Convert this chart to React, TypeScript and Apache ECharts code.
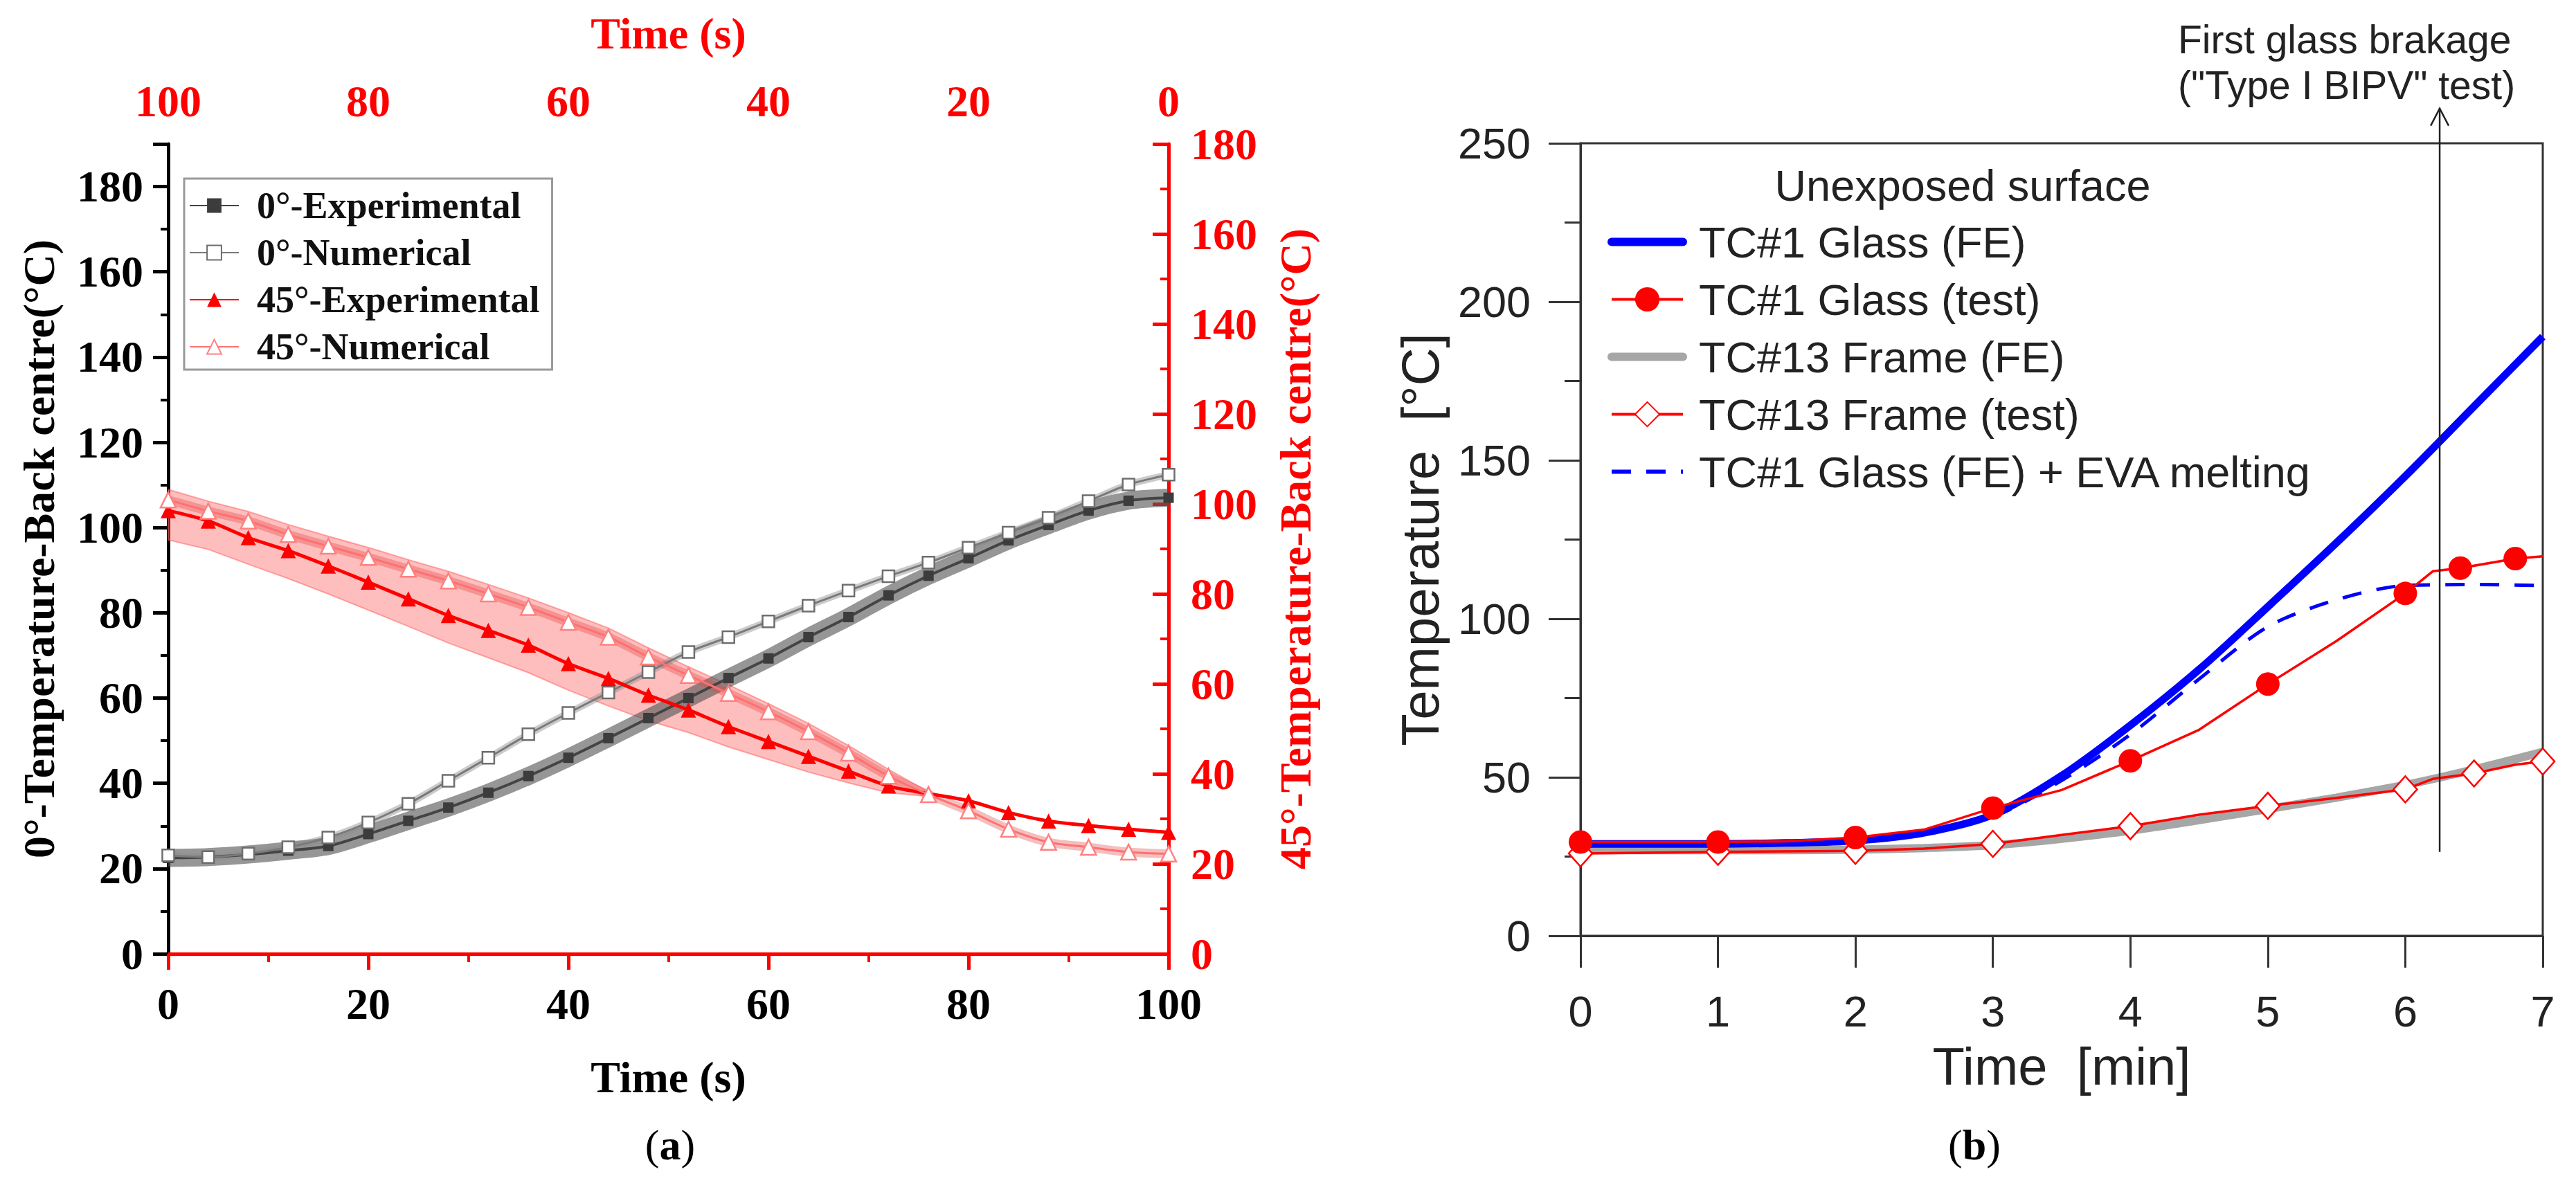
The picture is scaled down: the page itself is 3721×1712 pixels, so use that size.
import React, { useEffect, useRef } from 'react';
import * as echarts from 'echarts';

// ---- (a) 0° specimen: bottom time axis (s), left temperature axis (°C)
const time0 = [0, 4, 8, 12, 16, 20, 24, 28, 32, 36, 40, 44, 48, 52, 56, 60, 64, 68, 72, 76, 80, 84, 88, 92, 96, 100];
const exp0 = [22.5, 22.7, 23.3, 24.2, 25.3, 28.1, 31.2, 34.3, 37.8, 41.7, 46.0, 50.6, 55.3, 60.0, 64.7, 69.3, 74.3, 79.0, 84.1, 88.7, 92.8, 97.0, 100.6, 104.0, 106.3, 107.0];
const num0 = [23.1, 22.7, 23.5, 25.0, 27.3, 30.8, 35.2, 40.6, 46.0, 51.5, 56.5, 61.3, 66.1, 70.8, 74.3, 78.0, 81.7, 85.2, 88.6, 91.8, 95.3, 98.8, 102.3, 106.2, 110.1, 112.4];

// ---- (a) 45° specimen: top time axis (reversed), right temperature axis
const time45 = [0, 4, 8, 12, 16, 20, 24, 28, 32, 36, 40, 44, 48, 52, 56, 60, 64, 68, 72, 76, 80, 84, 88, 92, 96, 100];
const exp45 = [27.0, 27.7, 28.5, 29.5, 31.4, 34.0, 35.6, 37.3, 40.6, 43.9, 47.2, 50.5, 54.2, 57.5, 61.2, 64.5, 68.6, 71.9, 75.2, 78.9, 82.6, 86.2, 89.6, 92.5, 96.2, 98.5];
const num45 = [22.2, 22.6, 23.7, 24.8, 27.7, 31.8, 35.4, 39.5, 44.6, 49.4, 53.8, 57.9, 61.9, 66.0, 70.4, 73.7, 77.0, 80.0, 82.9, 85.5, 88.1, 90.6, 93.2, 96.2, 98.4, 100.9];
const bandTime45 = [24, 28, 32, 36, 40, 44, 48, 52, 56, 60, 64, 68, 72, 76, 80, 84, 88, 92, 96, 100];
const bandLow45 = [35.0, 35.8, 38.0, 40.4, 43.2, 46.0, 49.2, 51.8, 55.1, 58.6, 62.5, 65.8, 69.1, 72.8, 76.4, 80.0, 83.4, 86.6, 89.9, 92.0];
const bandHigh45 = [36.0, 41.0, 46.3, 51.2, 55.6, 59.8, 63.8, 68.0, 72.4, 75.8, 79.1, 82.1, 85.0, 87.6, 90.3, 92.8, 95.4, 98.3, 100.6, 103.2];

// ---- (b) unexposed surface, time in min
const feTime = [0, 0.5, 1, 1.5, 2, 2.5, 3, 3.5, 4, 4.5, 5, 5.5, 6, 6.5, 7];
const glassFE = [29, 29, 29, 29.3, 30, 32.5, 38.2, 50.5, 66.4, 84, 103.8, 124, 145, 167, 189];
const glassEVA = [29, 29, 29, 29.3, 30, 32.3, 37.5, 49, 63.5, 81, 97.5, 106, 110.5, 110.8, 110.5];
const frameFE = [27, 27, 27, 27, 27.2, 27.7, 28.6, 30.6, 33.2, 36.5, 40, 43.6, 47.6, 52.5, 58];

const glassTestTime = [0, 0.5, 1, 1.5, 2, 2.5, 3, 3.5, 4, 4.5, 5, 5.5, 6, 6.2, 6.4, 6.8, 7];
const glassTest = [29.6, 29.6, 29.6, 29.8, 31, 33.5, 40.3, 46, 55.2, 65, 79.4, 93, 108, 115, 116, 119, 119.7];
const glassTestMarks = [0, 1, 2, 3, 4, 5, 6, 6.4, 6.8];

const frameTestTime = [0, 1, 2, 2.5, 3, 3.5, 4, 4.5, 5, 5.5, 6, 6.2, 6.5, 6.8, 7];
const frameTest = [26, 26.5, 26.8, 27.5, 29, 31.8, 34.6, 38.2, 41, 43.5, 46.2, 49.5, 51.2, 54, 55];
const frameTestMarks = [0, 1, 2, 3, 4, 5, 6, 6.5, 7];

const breakTime = 6.25;
const breakRange = [26.5, 261];

const SERIF = "'Liberation Serif', 'Times New Roman', serif";
const SANS = "'Liberation Sans', Arial, sans-serif";
const RED = '#ff0000';
const NONE = 'rgba(0,0,0,0)';

const pair = (xs: number[], ys: number[]) => xs.map((x, i) => [x, ys[i]]);
const marked = (xs: number[], ys: number[], marks: number[]) =>
  xs.map((x, i) => (marks.includes(x) ? [x, ys[i]] : { value: [x, ys[i]], symbol: 'none' }));

const serifBold = (size: number, color = '#000') => ({
  fontFamily: SERIF,
  fontWeight: 'bold' as const,
  fontSize: size,
  color,
});
const sans = (size: number) => ({ fontFamily: SANS, fontSize: size, color: '#222' });

const App: React.FC = () => {
  const chartRef = useRef<HTMLDivElement>(null);

  useEffect(() => {
    document.body.style.margin = '0';
    if (!chartRef.current) return undefined;
    const chart = echarts.init(chartRef.current, undefined, { renderer: 'svg' });

    const options: any = {
      animation: false,
      backgroundColor: '#fff',
      grid: [
        { left: 243, right: 2033, top: 208, bottom: 334 },
        { left: 2283, right: 48, top: 207, bottom: 360, show: true, borderColor: '#333', borderWidth: 3 },
      ],
      xAxis: [
        {
          gridIndex: 0, type: 'value', position: 'bottom', min: 0, max: 100, interval: 20,
          axisLine: { lineStyle: { color: '#000', width: 5 } },
          axisTick: { length: 22, lineStyle: { width: 5, color: '#000' } },
          minorTick: { show: true, splitNumber: 2, length: 11, lineStyle: { width: 4, color: '#000' } },
          splitLine: { show: false },
          axisLabel: { margin: 40, ...serifBold(64) },
          name: 'Time (s)', nameLocation: 'middle', nameGap: 146, nameTextStyle: serifBold(64),
        },
        {
          gridIndex: 0, type: 'value', position: 'top', inverse: true, min: 0, max: 100, interval: 20,
          axisLine: { lineStyle: { color: RED, width: 5 } },
          axisTick: { inside: true, length: 23, lineStyle: { width: 5, color: RED } },
          minorTick: { show: true, splitNumber: 2, length: 12, lineStyle: { width: 4, color: RED } },
          splitLine: { show: false },
          axisLabel: { margin: 30, ...serifBold(64, RED) },
          name: 'Time (s)', nameLocation: 'middle', nameGap: 128, nameTextStyle: serifBold(64, RED),
        },
        {
          gridIndex: 1, type: 'value', min: 0, max: 7, interval: 1,
          axisLine: { lineStyle: { color: '#333', width: 3 } },
          axisTick: { length: 46, lineStyle: { width: 3, color: '#333' } },
          splitLine: { show: false },
          axisLabel: { margin: 77, ...sans(63) },
          name: 'Time  [min]', nameLocation: 'middle', nameGap: 150, nameTextStyle: sans(76),
        },
      ],
      yAxis: [
        {
          gridIndex: 0, type: 'value', position: 'left', min: 0, max: 190, interval: 20,
          axisLine: { lineStyle: { color: '#000', width: 5 } },
          axisTick: { length: 22, lineStyle: { width: 5, color: '#000' } },
          minorTick: { show: true, splitNumber: 2, length: 11, lineStyle: { width: 4, color: '#000' } },
          splitLine: { show: false },
          axisLabel: { margin: 36, showMaxLabel: false, ...serifBold(64) },
          name: '0°-Temperature-Back centre(°C)', nameLocation: 'middle', nameGap: 155, nameRotate: 90,
          nameTextStyle: serifBold(64),
        },
        {
          gridIndex: 0, type: 'value', position: 'right', min: 0, max: 180, interval: 20,
          axisLine: { lineStyle: { color: RED, width: 5 } },
          axisTick: { inside: true, length: 23, lineStyle: { width: 5, color: RED } },
          minorTick: { show: true, splitNumber: 2, length: 12, lineStyle: { width: 4, color: RED } },
          splitLine: { show: false },
          axisLabel: { margin: 32, ...serifBold(64, RED) },
          name: '45°-Temperature-Back centre(°C)', nameLocation: 'middle', nameGap: 151, nameRotate: 90,
          nameTextStyle: serifBold(64, RED),
        },
        {
          gridIndex: 1, type: 'value', min: 0, max: 250, interval: 50,
          axisLine: { lineStyle: { color: '#333', width: 3 } },
          axisTick: { length: 46, lineStyle: { width: 3, color: '#333' } },
          minorTick: { show: true, splitNumber: 2, length: 23, lineStyle: { width: 3, color: '#333' } },
          splitLine: { show: false },
          axisLabel: { margin: 72, ...sans(63) },
          name: 'Temperature  [°C]', nameLocation: 'middle', nameGap: 194, nameRotate: 90,
          nameTextStyle: sans(76),
        },
      ],
      legend: [
        {
          orient: 'vertical', left: 266, top: 258, selectedMode: false,
          itemWidth: 71, itemHeight: 26, itemGap: 14, padding: [12, 18, 6, 7],
          borderColor: '#9a9a9a', borderWidth: 3,
          textStyle: { ...serifBold(54, '#111'), padding: [0, 0, 0, 21] },
          data: ['0°-Experimental', '0°-Numerical', '45°-Experimental', '45°-Numerical'],
        },
        {
          orient: 'vertical', left: 2322, top: 318, selectedMode: false,
          itemWidth: 103, itemHeight: 44, itemGap: 20, padding: 0,
          textStyle: { ...sans(63), padding: [0, 0, 0, 18] },
          data: [
            { name: 'TC#1 Glass (FE)', itemStyle: { color: NONE, borderWidth: 0 }, lineStyle: { width: 12, color: '#0000ff', cap: 'round' } },
            { name: 'TC#1 Glass (test)', lineStyle: { width: 4, color: RED } },
            { name: 'TC#13 Frame (FE)', itemStyle: { color: NONE, borderWidth: 0 }, lineStyle: { width: 12, color: '#a6a6a6', cap: 'round' } },
            { name: 'TC#13 Frame (test)', lineStyle: { width: 4, color: RED } },
            {
              name: 'TC#1 Glass (FE) + EVA melting', itemStyle: { color: NONE, borderWidth: 0 },
              lineStyle: { width: 6, color: '#0000ff', type: [28, 22] },
            },
          ],
        },
      ],
      graphic: [
        {
          type: 'text', x: 968, y: 1654,
          style: {
            text: '{n|(}{b|a}{n|)}', align: 'center', verticalAlign: 'middle',
            rich: {
              n: { fontFamily: SERIF, fontSize: 62, fill: '#000' },
              b: { fontFamily: SERIF, fontSize: 62, fontWeight: 'bold', fill: '#000' },
            },
          },
        },
        {
          type: 'text', x: 2852, y: 1654,
          style: {
            text: '{n|(}{b|b}{n|)}', align: 'center', verticalAlign: 'middle',
            rich: {
              n: { fontFamily: SERIF, fontSize: 62, fill: '#000' },
              b: { fontFamily: SERIF, fontSize: 62, fontWeight: 'bold', fill: '#000' },
            },
          },
        },
        {
          type: 'text', x: 2835, y: 268,
          style: { text: 'Unexposed surface', fontFamily: SANS, fontSize: 63, fill: '#222', align: 'center', verticalAlign: 'middle' },
        },
        {
          type: 'text', x: 3146, y: 24,
          style: {
            text: 'First glass brakage\n("Type I BIPV" test)', fontFamily: SANS, fontSize: 57, lineHeight: 66,
            fill: '#222', align: 'left', verticalAlign: 'top',
          },
        },
      ],
      series: [
        // (a) light band of the 45° test, from the lower bound up to the numerical curve
        {
          name: '45° band', type: 'custom', xAxisIndex: 1, yAxisIndex: 1, z: 1, silent: true,
          data: [[bandTime45[0], bandLow45[0]]],
          renderItem: (_params: any, api: any) => {
            const lower = bandTime45.map((t, i) => api.coord([t, bandLow45[i]]));
            const upper = bandTime45.map((t, i) => api.coord([t, bandHigh45[i]])).reverse();
            return {
              type: 'polygon',
              shape: { points: lower.concat(upper) },
              style: { fill: 'rgba(255,100,100,0.42)', stroke: 'rgba(255,90,90,0.5)', lineWidth: 2 },
            };
          },
        },
        {
          name: '0° exp band', type: 'line', xAxisIndex: 0, yAxisIndex: 0, z: 1, silent: true,
          data: pair(time0, exp0), symbol: 'none', smooth: 0.3,
          lineStyle: { width: 26, color: 'rgba(85,85,85,0.62)' },
        },
        {
          name: '0° num band', type: 'line', xAxisIndex: 0, yAxisIndex: 0, z: 1, silent: true,
          data: pair(time0, num0), symbol: 'none', smooth: 0.3,
          lineStyle: { width: 10, color: 'rgba(140,140,140,0.45)' },
        },
        {
          name: '45° num band', type: 'line', xAxisIndex: 1, yAxisIndex: 1, z: 1, silent: true,
          data: pair(time45, num45), symbol: 'none', smooth: 0.3,
          lineStyle: { width: 13, color: 'rgba(225,70,70,0.35)' },
        },
        // (a) curves
        {
          name: '0°-Experimental', type: 'line', xAxisIndex: 0, yAxisIndex: 0,
          data: pair(time0, exp0), smooth: 0.3, symbol: 'rect', symbolSize: 15, showAllSymbol: true,
          lineStyle: { width: 4, color: '#444' }, itemStyle: { color: '#3c3c3c' },
        },
        {
          name: '0°-Numerical', type: 'line', xAxisIndex: 0, yAxisIndex: 0,
          data: pair(time0, num0), smooth: 0.3, symbol: 'rect', symbolSize: 17, showAllSymbol: true,
          lineStyle: { width: 3, color: '#7a7a7a' },
          itemStyle: { color: '#fff', borderColor: '#6e6e6e', borderWidth: 2.5 },
        },
        {
          name: '45°-Experimental', type: 'line', xAxisIndex: 1, yAxisIndex: 1,
          data: pair(time45, exp45), smooth: 0.3, symbol: 'triangle', symbolSize: 22, showAllSymbol: true,
          lineStyle: { width: 5, color: RED }, itemStyle: { color: RED },
        },
        {
          name: '45°-Numerical', type: 'line', xAxisIndex: 1, yAxisIndex: 1,
          data: pair(time45, num45), smooth: 0.3, symbol: 'triangle', symbolSize: 22, showAllSymbol: true,
          lineStyle: { width: 3, color: '#ff7070' },
          itemStyle: { color: '#fff', borderColor: '#ff8080', borderWidth: 2.5 },
        },
        // (b)
        {
          name: 'TC#13 Frame (FE)', type: 'line', xAxisIndex: 2, yAxisIndex: 2,
          data: pair(feTime, frameFE), smooth: 0.3, symbol: 'none',
          lineStyle: { width: 12, color: '#a6a6a6' }, itemStyle: { color: NONE },
        },
        {
          name: 'TC#13 Frame (test)', type: 'line', xAxisIndex: 2, yAxisIndex: 2,
          data: marked(frameTestTime, frameTest, frameTestMarks), symbol: 'diamond', symbolSize: [34, 38],
          showAllSymbol: true, lineStyle: { width: 3.5, color: RED },
          itemStyle: { color: '#fff', borderColor: RED, borderWidth: 2.5 },
        },
        {
          name: 'TC#1 Glass (FE)', type: 'line', xAxisIndex: 2, yAxisIndex: 2,
          data: pair(feTime, glassFE), smooth: 0.3, symbol: 'none',
          lineStyle: { width: 11, color: '#0000ff' }, itemStyle: { color: NONE },
        },
        {
          name: 'TC#1 Glass (FE) + EVA melting', type: 'line', xAxisIndex: 2, yAxisIndex: 2,
          data: pair(feTime, glassEVA), smooth: 0.3, symbol: 'none',
          lineStyle: { width: 5, color: '#0000ff', type: [28, 22] }, itemStyle: { color: NONE },
        },
        {
          name: 'TC#1 Glass (test)', type: 'line', xAxisIndex: 2, yAxisIndex: 2,
          data: marked(glassTestTime, glassTest, glassTestMarks), symbol: 'circle', symbolSize: 34,
          showAllSymbol: true, lineStyle: { width: 3.5, color: RED }, itemStyle: { color: RED },
        },
        // vertical arrow marking the first glass breakage, reaching above the plot frame
        {
          name: 'glass breakage', type: 'custom', xAxisIndex: 2, yAxisIndex: 2, z: 5, silent: true,
          data: [[breakTime, breakRange[0]]],
          renderItem: (_params: any, api: any) => {
            const p0 = api.coord([breakTime, breakRange[0]]);
            const p1 = api.coord([breakTime, breakRange[1]]);
            const style = { stroke: '#222', lineWidth: 2.5, fill: null };
            return {
              type: 'group',
              children: [
                { type: 'line', shape: { x1: p0[0], y1: p0[1], x2: p1[0], y2: p1[1] }, style },
                {
                  type: 'polyline',
                  shape: { points: [[p1[0] - 13, p1[1] + 25], [p1[0], p1[1]], [p1[0] + 13, p1[1] + 25]] },
                  style,
                },
              ],
            };
          },
        },
      ],
    };

    chart.setOption(options);
    return () => {
      chart.dispose();
    };
  }, []);

  return <div ref={chartRef} style={{ width: '3721px', height: '1712px' }} />;
};

export default App;
